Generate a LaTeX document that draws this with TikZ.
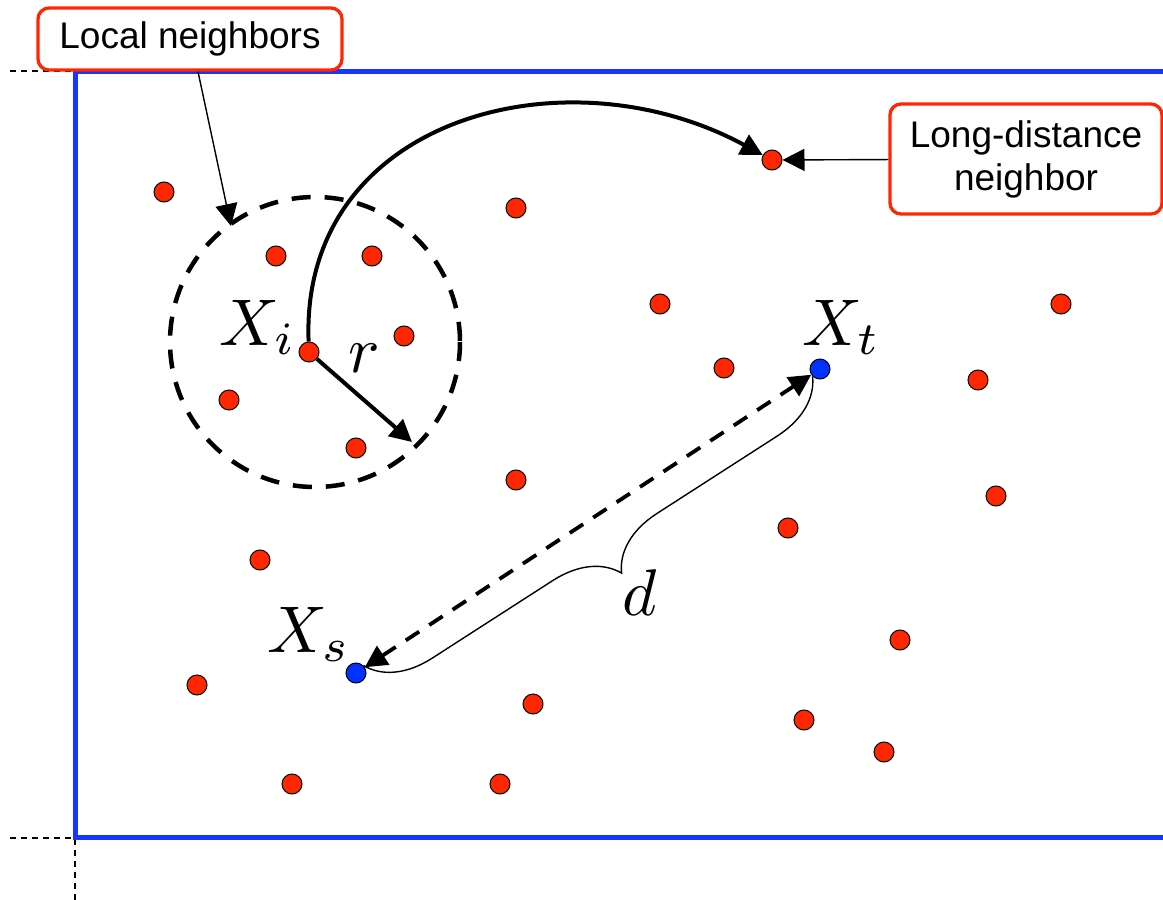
\documentclass[tikz,border=0pt]{standalone}
\usepackage{fontspec}
\setmainfont{Liberation Sans}
\usetikzlibrary{arrows.meta,decorations.pathreplacing}
\definecolor{dotred}{RGB}{255,38,0}
\definecolor{dotblue}{RGB}{0,51,255}
\definecolor{frameblue}{RGB}{20,55,255}
\begin{document}
\begin{tikzpicture}[x=1pt,y=-1pt,
  reddot/.style={circle,draw=black,line width=1pt,fill=dotred,minimum size=20pt,inner sep=0pt},
  bluedot/.style={circle,draw=black,line width=1pt,fill=dotblue,minimum size=20pt,inner sep=0pt},
  labelbox/.style={draw=dotred,line width=3.3pt,rounded corners=11pt,fill=white,align=center,
    font=\fontsize{37}{43}\selectfont,inner sep=0pt},
  mathlbl/.style={scale=6.6,inner sep=0pt,anchor=base west},
  tip/.style={-{Triangle[length=22pt,width=22pt]}},
  thinarrow/.style={tip,line width=1.4pt},
  thickarrow/.style={tip,line width=4pt},
  guide/.style={black,line width=1.6pt,dash pattern=on 6pt off 5pt},
  frame/.style={frameblue,line width=5pt},
  localcircle/.style={black,line width=4.5pt,dash pattern=on 19pt off 14pt},
  distarrow/.style={{Triangle[length=22pt,width=22pt]}-{Triangle[length=22pt,width=22pt]},line width=3.8pt,dash pattern=on 16pt off 12pt},
  bracestyle/.style={decorate,decoration={brace,amplitude=62pt},line width=1.4pt}]
\useasboundingbox (0,0) rectangle (1163,900);

% frame and guides
\draw[guide] (10,71) -- (75,71);
\draw[guide] (10,838) -- (75,838) -- (75,900);
\draw[frame] (1175,71) -- (75,71) -- (75,837) -- (1175,837);

% local neighbourhood circle
\coordinate (cc) at (315,342);
\draw[localcircle] (cc) circle (145);

% red points
\node[reddot] (p1) at (164,192) {};
\node[reddot] (p2) at (276,256) {};
\node[reddot] (p3) at (372,256) {};
\node[reddot] (p4) at (516,208) {};
\node[reddot] (p5) at (404,336) {};
\node[reddot] (xi) at (309,352) {};
\node[reddot] (p6) at (229,400) {};
\node[reddot] (p7) at (356,448) {};
\node[reddot] (p8) at (660,304) {};
\node[reddot] (p9) at (724,368) {};
\node[reddot] (p10) at (1061,304) {};
\node[reddot] (p11) at (978,380) {};
\node[reddot] (p12) at (516,480) {};
\node[reddot] (p13) at (996,496) {};
\node[reddot] (p14) at (788,528) {};
\node[reddot] (p15) at (260,560) {};
\node[reddot] (p16) at (900,640) {};
\node[reddot] (p17) at (197,685) {};
\node[reddot] (p18) at (533,704) {};
\node[reddot] (p19) at (804,720) {};
\node[reddot] (p20) at (884,752) {};
\node[reddot] (p21) at (292,784) {};
\node[reddot] (p22) at (500,784) {};
\node[reddot] (ldn) at (772,160) {};

% blue points
\node[bluedot] (xt) at (820,369) {};
\node[bluedot] (xs) at (356,673) {};

% labels
\node[labelbox,minimum width=304pt,minimum height=62pt] (lnbox) at (190,39) {Local neighbors};
\node[labelbox,minimum width=272pt,minimum height=110pt] (ldbox) at (1026,159) {Long-distance\\neighbor};

\node[mathlbl] (lxi) at (218,345) {$X_i$};
\node[mathlbl] (lr) at (347,372) {$r$};
\node[mathlbl] (lxt) at (801,345) {$X_t$};
\node[mathlbl] (lxs) at (266,652) {$X_s$};
\node[mathlbl] (ld) at (621,615) {$d$};

% connectors
\coordinate (lntip) at (231,226);
\coordinate (rtip) at (412,442);
\draw[thinarrow] ([xshift=8pt]lnbox.south) -- (lntip);
\draw[thinarrow] (ldbox) -- (ldn);
\draw[thickarrow] (xi) .. controls (300,118) and (565,48) .. (ldn);
\draw[thickarrow] (xi) -- (rtip);
\draw[distarrow] (xs) -- (xt);
\draw[bracestyle] (xt.south west) -- (xs.north east);
\end{tikzpicture}
\end{document}
